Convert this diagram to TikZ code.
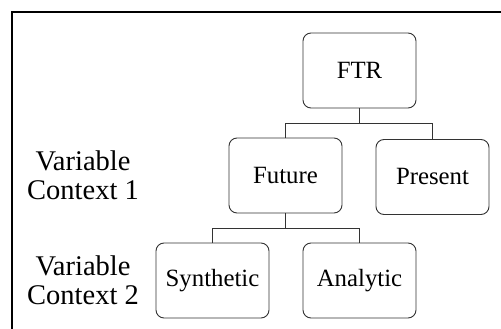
\documentclass[tikz,border=0pt]{standalone}
\usepackage{fontspec}
\setmainfont{Liberation Serif}
\usetikzlibrary{calc}
\tikzset{
  box/.style={draw=black!80, line width=0.9pt, rounded corners=8pt,
    minimum width=113pt, minimum height=75pt, inner sep=0pt,
    font=\fontsize{24.8}{28}\selectfont},
  ctxlabel/.style={align=center, inner sep=0pt,
    font=\fontsize{28.5}{29}\selectfont},
  link/.style={draw=black!80, line width=0.9pt}
}
\begin{document}
\begin{tikzpicture}[x=1pt,y=-1pt]
			%%%%% START %%%%%
			\useasboundingbox (0,0) rectangle (501,329);
			
			\draw[line width=2pt] (12,331) -- (12,12) -- (503,12);
			
			\node[box] (ftr) at (359.5,70.5) {FTR};
			\node[box] (future) at (285.5,175.5) {Future};
			\node[box] (present) at (432.5,177) {Present};
			\node[box] (synthetic) at (212.5,280.5) {Synthetic};
			\node[box] (analytic) at (359.5,280.5) {Analytic};
			
			\node[ctxlabel] (ctx1) at (83,175.5) {Variable\\Context 1};
			\node[ctxlabel] (ctx2) at (83,280.5) {Variable\\Context 2};
			
			\draw[link] (ftr.south) -- ++(0,15) -| (future.north);
			\draw[link] (ftr.south) -- ++(0,15) -| (present.north);
			\draw[link] (future.south) -- ++(0,15) -| (synthetic.north);
			\draw[link] (future.south) -- ++(0,15) -| (analytic.north);
			
			%%%%% END %%%%%
\end{tikzpicture}
\end{document}
